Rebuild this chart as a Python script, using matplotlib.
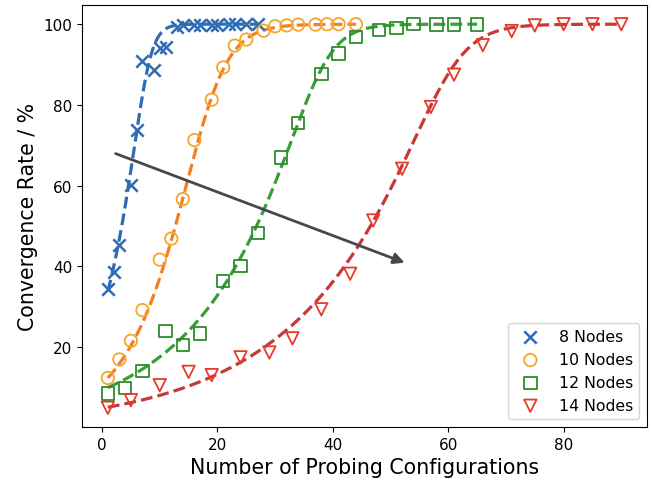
import numpy as np
import matplotlib.pyplot as plt

# measured convergence rates
x8 = [1, 2, 3, 5, 6, 7, 9, 10, 11, 13, 14, 16, 17, 19, 20, 22, 23, 25, 27]
y8 = [34.5, 38.7, 45.3, 60.3, 73.7, 91.0, 88.6, 94.0, 94.4, 99.3, 99.7, 99.8, 99.8, 99.9, 99.9, 100, 100, 100, 100]

x10 = [1, 3, 5, 7, 10, 12, 14, 16, 19, 21, 23, 25, 28, 30, 32, 34, 37, 39, 41, 44]
y10 = [12.4, 17.0, 21.6, 29.2, 41.7, 46.9, 56.7, 71.3, 81.3, 89.3, 94.7, 96.2, 98.4, 99.5,
       99.7, 99.9, 99.9, 100, 100, 100]

x12 = [1, 4, 7, 11, 14, 17, 21, 24, 27, 31, 34, 38, 41, 44, 48, 51, 54, 58, 61, 65]
y12 = [8.5, 9.9, 14.1, 24.0, 20.5, 23.4, 36.4, 40.1, 48.3, 67.0, 75.6, 87.7, 92.7, 96.8,
       98.5, 99.1, 100, 99.9, 99.9, 99.9]

x14 = [1, 5, 10, 15, 19, 24, 29, 33, 38, 43, 47, 52, 57, 61, 66, 71, 75, 80, 85, 90]
y14 = [5.0, 6.9, 10.6, 13.9, 13.1, 17.5, 18.7, 22.2, 29.4, 38.2, 51.4, 64.2, 79.5, 87.5,
       94.8, 98.3, 99.7, 100, 100, 100]

labels = ['8 Nodes', '10 Nodes', '12 Nodes', '14 Nodes']
markers = ['x', 'o', 's', 'v']
marker_colors = ['#2f6cb3', '#f5a52a', '#2e8b2e', '#e8392b']
line_colors = ['#2f6cb3', '#f47f20', '#35a034', '#c43a38']

# fitted curve parameters (k, x0, nu) for a Richards curve
fit_k = [0.82, 0.314, 0.35, 0.28]
fit_x0 = [7.6, 17.6, 37.8, 60.3]
fit_nu = [5.0, 2.5, 5.6, 5.6]


def richards(x, k, x0, nu):
    return 100 / (1 + np.exp(-k * (x - x0))) ** (1 / nu)


fig = plt.figure(figsize=(6.52, 4.85), dpi=100)
ax = fig.add_axes([0.126, 0.1175, 0.8663, 0.8701])

series = [(x8, y8), (x10, y10), (x12, y12), (x14, y14)]
for i, (xs, ys) in enumerate(series):
    xf = np.linspace(min(xs), max(xs), 300)
    ax.plot(xf, richards(xf, fit_k[i], fit_x0[i], fit_nu[i]), '--',
            color=line_colors[i], lw=2.3, zorder=2)
    if markers[i] == 'x':
        ax.scatter(xs, ys, marker='x', color=marker_colors[i], s=80,
                   linewidths=1.8, label=labels[i], zorder=3)
    else:
        ax.scatter(xs, ys, marker=markers[i], facecolors='none',
                   edgecolors=marker_colors[i], s=80, linewidths=1.3,
                   label=labels[i], zorder=3)

ax.annotate('', xy=(52.9, 40.7), xytext=(1.9, 68.2),
            arrowprops=dict(arrowstyle='-|>', color='#46484e', lw=2,
                            mutation_scale=16))

ax.set_xlabel('Number of Probing Configurations', fontsize=14.8)
ax.set_ylabel('Convergence Rate / %', fontsize=14.8)
ax.tick_params(labelsize=11)
ax.set_yticks([20, 40, 60, 80, 100])
ax.legend(loc='lower right', fontsize=11.3)

fig.savefig('out.png', dpi=100)
